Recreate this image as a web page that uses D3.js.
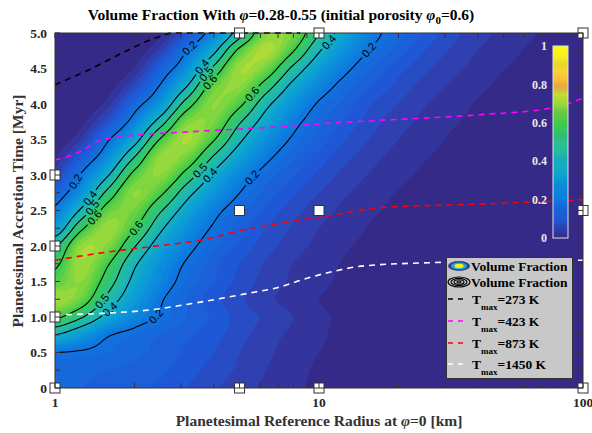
<!DOCTYPE html>
<html><head><meta charset="utf-8">
<script src="https://cdn.jsdelivr.net/npm/d3@7"></script>
<style>body{margin:0;background:#fff}svg{display:block}</style>
</head><body>
<svg id="chart" width="592" height="433"></svg>
<script>
// ---------------- data ----------------
// grid columns: planetesimal reference radius [km] (log-spaced), rows: accretion time [Myr]
const gridRadius = [1,1.259,1.585,1.995,2.512,3.162,3.981,5.012,6.310,7.943,10,12.59,15.85,19.95,25.12,31.62,39.81,50.12,63.10,79.43,100];
const gridTime = [0,0.25,0.5,0.75,1,1.25,1.5,1.75,2,2.25,2.5,2.75,3,3.25,3.5,3.75,4,4.25,4.5,4.75,5];
const volumeFraction = [
 [0.16,0.15,0.14,0.13,0.12,0.10,0.08,0.06,0.045,0.03,0.02,0.01,0,0,0,0,0,0,0,0,0],
 [0.17,0.16,0.15,0.14,0.13,0.11,0.09,0.07,0.05,0.035,0.02,0.01,0,0,0,0,0,0,0,0,0],
 [0.20,0.19,0.175,0.16,0.14,0.12,0.10,0.075,0.055,0.04,0.025,0.015,0.005,0,0,0,0,0,0,0,0],
 [0.40,0.31,0.21,0.175,0.15,0.13,0.11,0.085,0.06,0.045,0.03,0.015,0.005,0,0,0,0,0,0,0,0],
 [0.62,0.51,0.36,0.25,0.19,0.15,0.12,0.09,0.07,0.05,0.03,0.02,0.01,0,0,0,0,0,0,0,0],
 [0.73,0.66,0.47,0.32,0.21,0.15,0.11,0.08,0.056,0.04,0.025,0.016,0.009,0,0,0,0,0,0,0,0],
 [0.64,0.70,0.55,0.37,0.25,0.17,0.126,0.092,0.065,0.046,0.032,0.019,0.012,0.005,0,0,0,0,0,0,0],
 [0.58,0.72,0.61,0.42,0.28,0.19,0.137,0.10,0.072,0.05,0.036,0.022,0.014,0.007,0,0,0,0,0,0,0],
 [0.49,0.71,0.69,0.51,0.34,0.23,0.16,0.118,0.086,0.061,0.043,0.028,0.018,0.01,0.003,0,0,0,0,0,0],
 [0.32,0.58,0.72,0.61,0.42,0.28,0.19,0.137,0.10,0.072,0.05,0.036,0.022,0.014,0.007,0,0,0,0,0,0],
 [0.22,0.42,0.65,0.67,0.51,0.35,0.23,0.16,0.12,0.086,0.061,0.043,0.029,0.018,0.011,0.004,0,0,0,0,0],
 [0.15,0.29,0.53,0.70,0.62,0.44,0.30,0.20,0.14,0.105,0.075,0.053,0.038,0.023,0.015,0.008,0,0,0,0,0],
 [0.073,0.21,0.39,0.63,0.70,0.56,0.38,0.25,0.17,0.127,0.094,0.066,0.047,0.032,0.02,0.012,0.005,0,0,0,0],
 [0.025,0.127,0.27,0.50,0.71,0.67,0.49,0.33,0.22,0.155,0.114,0.083,0.058,0.041,0.027,0.017,0.01,0.002,0,0,0],
 [0,0.054,0.19,0.35,0.61,0.73,0.61,0.42,0.28,0.19,0.14,0.10,0.072,0.05,0.036,0.022,0.014,0.007,0,0,0],
 [0,0.014,0.10,0.24,0.45,0.68,0.68,0.51,0.35,0.23,0.16,0.12,0.086,0.061,0.043,0.029,0.018,0.011,0.004,0,0],
 [0,0,0.038,0.16,0.30,0.55,0.70,0.62,0.43,0.29,0.19,0.14,0.10,0.074,0.052,0.037,0.023,0.015,0.008,0,0],
 [0,0,0.009,0.08,0.21,0.40,0.65,0.70,0.55,0.37,0.25,0.17,0.125,0.092,0.065,0.046,0.031,0.019,0.012,0.005,0],
 [0,0,0,0.028,0.14,0.28,0.52,0.72,0.67,0.48,0.32,0.22,0.15,0.11,0.082,0.058,0.041,0.026,0.017,0.01,0.002],
 [0,0,0,0.005,0.063,0.20,0.37,0.63,0.74,0.61,0.41,0.28,0.19,0.14,0.10,0.072,0.05,0.035,0.021,0.014,0.006],
 [0,0,0,0,0.018,0.11,0.25,0.46,0.69,0.68,0.50,0.34,0.23,0.16,0.12,0.085,0.06,0.042,0.028,0.018,0.01]
];
const lineLevels = [0.2,0.4,0.5,0.6];
// contour labels: level and approximate position (radius km, time Myr)
const labelLevel = [0.2,0.4,0.2,0.4,0.5,0.6,0.6,0.5,0.4,0.2,0.2,0.4,0.5,0.6,0.6,0.5,0.4,0.2];
const labelR     = [3.16,10.7,15.3,3.54,3.77,3.96,5.57,3.45,3.77,5.62,1.21,1.33,1.38,1.45,2.04,1.51,1.64,2.33];
const labelT     = [4.83,4.90,4.79,4.54,4.41,4.27,4.15,3.11,3.03,2.97,2.89,2.69,2.55,2.37,2.25,1.21,1.10,1.07];
// T_max curves
const tmaxNames = ["273","423","873","1450"];
const tmaxColors = ["#000000","#ff00ff","#ff0000","#ffffff"];
const tmaxR = [
 [1,1.34,1.8,2.4,2.8,4,6,8.5],
 [1,1.28,1.46,2.0,2.95,7.1,11,17,41,75,100],
 [1,1.48,2.29,3.55,5.5,7.11,10.35,17,40.7,100],
 [1,1.48,2.29,3.55,5.5,7.08,8.71,10.96,14.8,29.5,100]
];
const tmaxT = [
 [4.27,4.48,4.72,4.93,5.0,5.0,5.0,5.0],
 [3.21,3.35,3.48,3.56,3.60,3.68,3.73,3.77,3.85,3.94,4.08],
 [1.80,1.90,1.99,2.08,2.25,2.32,2.41,2.54,2.59,2.65],
 [1.03,1.05,1.10,1.21,1.34,1.42,1.53,1.63,1.72,1.77,1.80]
];
// simulation points
const markerR = [1,1,1,1,5,10,100,5,10,100,5,10,100];
const markerT = [0,1,2,3,5,5,5,2.5,2.5,2.5,0,0,0];
const xTicks = [1,10,100];
const xMinor = [2,3,4,5,6,7,8,9,20,30,40,50,60,70,80,90];
const yTicks = [0,0.5,1,1.5,2,2.5,3,3.5,4,4.5,5];
const yTickLabels = ["0","0.5","1.0","1.5","2.0","2.5","3.0","3.5","4.0","4.5","5.0"];
const cbTicks = [0,0.2,0.4,0.6,0.8,1];
const cbTickLabels = ["0","0.2","0.4","0.6","0.8","1"];
// colormap
const cmapStops  = [0,0.05,0.1,0.2,0.3,0.4,0.5,0.6,0.7,0.75,0.8,0.85,0.9,1];
const cmapColors = ["#352a87","#3040b0","#1f58d6","#0d78e0","#0a9bd8","#16b3bf","#2cc28a","#3ccb4a","#95d93c","#c8dc36","#f7ae3c","#f9c93a","#f5e22c","#f9fa14"];

// ---------------- setup ----------------
const svg = d3.select("#chart");
const L=55, R=583, T=33, B=388;
const x = d3.scaleLog().domain([1,100]).range([L,R]);
const y = d3.scaleLinear().domain([0,5]).range([B,T]);
const cmap = d3.scaleLinear().domain(cmapStops).range(cmapColors).clamp(true);
const serif = "'Liberation Serif','Times New Roman',serif";
const defs = svg.append("defs");
defs.append("clipPath").attr("id","plotClip").append("rect").attr("x",L).attr("y",T).attr("width",R-L).attr("height",B-T);
defs.append("clipPath").attr("id","lineClip").append("rect").attr("x",L).attr("y",T-2).attr("width",R-L).attr("height",B-T+2);

// interpolation of the data grid (Catmull-Rom)
const nC = gridRadius.length, nR = gridTime.length;
const U0 = Math.log10(gridRadius[0]), DU = (Math.log10(gridRadius[nC-1])-U0)/(nC-1);
const T0 = gridTime[0], DT = (gridTime[nR-1]-T0)/(nR-1);
function cr(p0,p1,p2,p3,t){return p1+0.5*t*(p2-p0+t*(2*p0-5*p1+4*p2-p3+t*(3*(p1-p2)+p3-p0)));}
function sample(u,tm){
  const fx=(u-U0)/DU, fy=(tm-T0)/DT;
  const ix=Math.floor(fx), iy=Math.floor(fy), tx=fx-ix, ty=fy-iy;
  const c=k=>Math.max(0,Math.min(nC-1,k)), r=k=>Math.max(0,Math.min(nR-1,k));
  const v=[];
  for(let m=-1;m<=2;m++){const Rw=volumeFraction[r(iy+m)];v.push(cr(Rw[c(ix-1)],Rw[c(ix)],Rw[c(ix+1)],Rw[c(ix+2)],tx));}
  return Math.max(0,cr(v[0],v[1],v[2],v[3],ty));
}
const pad=3, sx=2, sy=(B-T)/178, nx=264+2*pad, ny=178+2*pad;
const values = new Float64Array(nx*ny);
for(let j=0;j<ny;j++){
  const py=T+(j-pad+0.5)*sy, tm=y.invert(py);
  for(let i=0;i<nx;i++){
    const px=L+(i-pad+0.5)*sx, u=Math.log10(x.invert(px));
    values[j*nx+i]=sample(u,tm);
  }
}
const gx2px = g => L+(g-pad)*sx, gy2py = g => T+(g-pad)*sy;
const proj = d3.geoTransform({point:function(a,b){this.stream.point(gx2px(a),gy2py(b));}});
const gpath = d3.geoPath(proj);

// filled contours
const plot = svg.append("g").attr("clip-path","url(#plotClip)");
plot.append("rect").attr("x",L).attr("y",T).attr("width",R-L).attr("height",B-T).attr("fill",cmap(0));
const fillLevels = d3.range(0.025,1.0,0.025);
const fills = d3.contours().size([nx,ny]).thresholds(fillLevels)(values);
plot.selectAll("path.fill").data(fills).join("path").attr("class","fill")
  .attr("d",gpath).attr("fill",d=>cmap(d.value)).attr("stroke",d=>cmap(d.value)).attr("stroke-width",0.4);

// contour lines + labels
const lines = d3.contours().size([nx,ny]).thresholds(lineLevels)(values);
const mask = defs.append("mask").attr("id","lblMask").attr("maskUnits","userSpaceOnUse")
  .attr("x",0).attr("y",0).attr("width",592).attr("height",433);
mask.append("rect").attr("x",0).attr("y",0).attr("width",592).attr("height",433).attr("fill","white");
plot.append("g").attr("mask","url(#lblMask)").selectAll("path").data(lines).join("path")
  .attr("d",gpath).attr("fill","none").attr("stroke","#000").attr("stroke-width",1.1);
const lblG = plot.append("g");
labelLevel.forEach((lev,k)=>{
  const geo = lines.find(g=>Math.abs(g.value-lev)<1e-9);
  const tx=x(labelR[k]), ty=y(labelT[k]);
  let best=null, bd=1e9;
  geo.coordinates.forEach(poly=>poly.forEach(ring=>{
    const pts=ring.map(p=>[gx2px(p[0]),gy2py(p[1])]);
    pts.forEach((p,i)=>{const d=(p[0]-tx)**2+(p[1]-ty)**2; if(d<bd){bd=d;best={pts,i};}});
  }));
  const pts=best.pts, n=pts.length, i=best.i;
  const a=pts[(i-4+n)%n], b=pts[(i+4)%n], p=pts[i];
  let ang=Math.atan2(b[1]-a[1],b[0]-a[0])*180/Math.PI;
  if(ang>90)ang-=180; if(ang<=-90)ang+=180;
  const txt=String(lev);
  lblG.append("text").attr("transform",`translate(${p[0]},${p[1]}) rotate(${ang})`)
    .attr("text-anchor","middle").attr("dy","0.35em").attr("font-family","'Liberation Sans',Arial,sans-serif")
    .attr("font-size",11).attr("fill","#000").text(txt);
  mask.append("rect").attr("x",-10).attr("y",-6).attr("width",20).attr("height",12)
    .attr("transform",`translate(${p[0]},${p[1]}) rotate(${ang})`).attr("fill","black");
});

// T_max dashed curves
const tl = svg.append("g").attr("clip-path","url(#lineClip)");
tmaxNames.forEach((nm,k)=>{
  const pts=tmaxR[k].map((r,i)=>[x(r),y(tmaxT[k][i])]);
  tl.append("path").attr("d",d3.line().curve(d3.curveMonotoneX)(pts)).attr("fill","none")
    .attr("stroke",tmaxColors[k]).attr("stroke-width",1.6).attr("stroke-dasharray","6,5");
});

// markers
svg.append("g").selectAll("rect").data(markerR).join("rect")
  .attr("x",(d,i)=>x(d)-5).attr("y",(d,i)=>y(markerT[i])-5).attr("width",10).attr("height",10)
  .attr("fill","#fff").attr("stroke","#333").attr("stroke-width",1);

// colorbar
const cb = d3.scaleLinear().domain([0,1]).range([238,46]);
const cbG = svg.append("g");
d3.range(0,1,0.005).forEach(v=>{
  cbG.append("rect").attr("x",553).attr("y",cb(v+0.005)).attr("width",15).attr("height",cb(v)-cb(v+0.005)+0.5).attr("fill",cmap(v+0.0025));
});
cbG.append("rect").attr("x",553).attr("y",46).attr("width",15).attr("height",192).attr("fill","none").attr("stroke","#e0e0e0").attr("stroke-width",1);
cbG.selectAll("text").data(cbTicks).join("text").attr("x",547).attr("y",d=>cb(d)).attr("dy","0.35em")
  .attr("text-anchor","end").attr("font-family",serif).attr("font-weight","bold").attr("font-size",12)
  .attr("fill","#e8e8e8").text((d,i)=>cbTickLabels[i]);

// legend
const lg = svg.append("g");
lg.append("rect").attr("x",446.5).attr("y",257.5).attr("width",126).attr("height",121).attr("fill","#c8c8c8").attr("stroke","#333").attr("stroke-width",1);
const ic1=lg.append("g").attr("transform","translate(459,266)");
ic1.append("ellipse").attr("rx",11).attr("ry",5).attr("fill","#3a3c9c");
ic1.append("ellipse").attr("rx",8).attr("ry",3.6).attr("fill","#18b0b8");
ic1.append("ellipse").attr("rx",4.5).attr("ry",2.2).attr("fill","#f2ee20");
const ic2=lg.append("g").attr("transform","translate(459,282)");
[[11,5],[8,3.6],[5,2.3],[2,1]].forEach(e=>ic2.append("ellipse").attr("rx",e[0]).attr("ry",e[1]).attr("fill","none").attr("stroke","#000").attr("stroke-width",1.1));
["Volume Fraction","Volume Fraction"].forEach((t,i)=>{
  lg.append("text").attr("x",471).attr("y",266+i*16).attr("dy","0.35em").attr("font-family",serif)
    .attr("font-weight","bold").attr("font-size",13.5).attr("fill","#000").text(t);
});
const rowY=[299,321,343,364];
tmaxNames.forEach((nm,k)=>{
  lg.append("line").attr("x1",448).attr("x2",464).attr("y1",rowY[k]).attr("y2",rowY[k])
    .attr("stroke",tmaxColors[k]).attr("stroke-width",1.6).attr("stroke-dasharray","5,5");
  const t=lg.append("text").attr("x",472).attr("y",rowY[k]).attr("dy","0.35em").attr("font-family",serif)
    .attr("font-weight","bold").attr("font-size",13.5).attr("fill","#000");
  t.append("tspan").text("T");
  t.append("tspan").attr("font-size",9).attr("dy",6).text("max");
  t.append("tspan").attr("dy",-6).text("="+nm+" K");
});

// axes frame & ticks
const ax = svg.append("g").attr("stroke","#333").attr("stroke-width",1).attr("fill","none");
ax.append("rect").attr("x",L).attr("y",T).attr("width",R-L).attr("height",B-T);
xTicks.concat(xMinor).forEach(v=>{
  ax.append("line").attr("x1",x(v)).attr("x2",x(v)).attr("y1",B).attr("y2",B-5);
  ax.append("line").attr("x1",x(v)).attr("x2",x(v)).attr("y1",T).attr("y2",T+5);
});
d3.range(0,5.001,0.25).forEach(v=>{
  ax.append("line").attr("x1",L).attr("x2",L+5).attr("y1",y(v)).attr("y2",y(v));
  ax.append("line").attr("x1",R).attr("x2",R-5).attr("y1",y(v)).attr("y2",y(v));
});
const tk = svg.append("g").attr("font-family",serif).attr("font-weight","bold").attr("font-size",13.5).attr("fill","#262626");
tk.selectAll("text.y").data(yTicks).join("text").attr("class","y").attr("x",47).attr("y",d=>y(d)).attr("dy","0.35em")
  .attr("text-anchor","end").text((d,i)=>yTickLabels[i]);
tk.selectAll("text.x").data(xTicks).join("text").attr("class","x").attr("x",d=>x(d)).attr("y",407)
  .attr("text-anchor","middle").text(d=>d);

// titles
const xt = svg.append("text").attr("x",319).attr("y",426).attr("text-anchor","middle").attr("font-family",serif)
  .attr("font-weight","bold").attr("font-size",15.5).attr("fill","#333");
xt.append("tspan").text("Planetesimal Reference Radius at ");
xt.append("tspan").attr("font-style","italic").text("φ");
xt.append("tspan").text("=0 [km]");
svg.append("text").attr("transform","translate(23,211) rotate(-90)").attr("text-anchor","middle").attr("font-family",serif)
  .attr("font-weight","bold").attr("font-size",15.5).attr("fill","#333").text("Planetesimal Accretion Time [Myr]");
const tt = svg.append("text").attr("x",281).attr("y",20).attr("text-anchor","middle").attr("font-family",serif)
  .attr("font-weight","bold").attr("font-size",15.5).attr("fill","#000");
tt.append("tspan").text("Volume Fraction With ");
tt.append("tspan").attr("font-style","italic").text("φ");
tt.append("tspan").text("=0.28-0.55 (initial porosity ");
tt.append("tspan").attr("font-style","italic").text("φ");
tt.append("tspan").attr("font-size",11).attr("dy",4).text("0");
tt.append("tspan").attr("dy",-4).text("=0.6)");
</script>
</body></html>
